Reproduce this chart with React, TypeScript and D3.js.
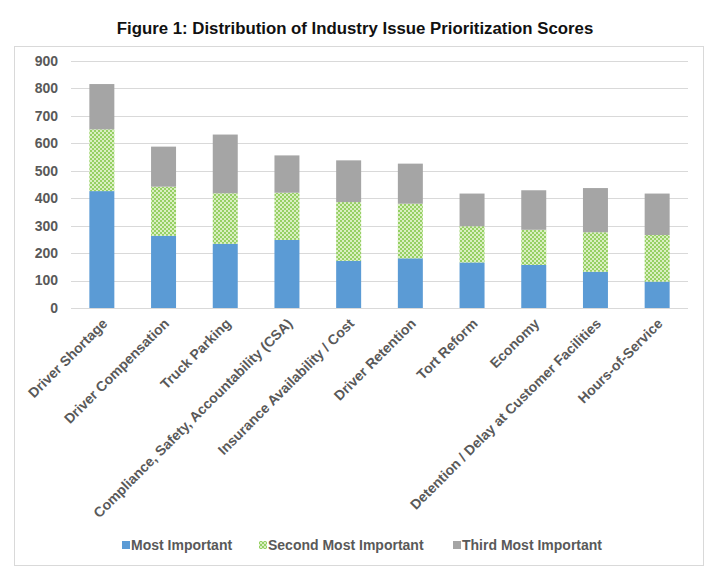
import React, { useEffect, useRef } from 'react';
import * as d3 from 'd3';

// issues, left to right
const categories = [
  'Driver Shortage',
  'Driver Compensation',
  'Truck Parking',
  'Compliance, Safety, Accountability (CSA)',
  'Insurance Availability / Cost',
  'Driver Retention',
  'Tort Reform',
  'Economy',
  'Detention / Delay at Customer Facilities',
  'Hours-of-Service',
];

// stacked segments (scores)
const mostImportant = [426, 263, 234, 248, 172, 181, 166, 157, 132, 96];
const secondMostImportant = [225, 179, 184, 172, 214, 199, 132, 128, 144, 170];
const thirdMostImportant = [165, 146, 214, 136, 152, 146, 119, 144, 161, 151];

const seriesNames = ['Most Important', 'Second Most Important', 'Third Most Important'];
const yTicks = [0, 100, 200, 300, 400, 500, 600, 700, 800, 900];

const W = 720;
const H = 579;

const App = () => {
  const ref = useRef<SVGSVGElement | null>(null);

  useEffect(() => {
    if (!ref.current) return;
    const svg = d3.select(ref.current);
    svg.selectAll('*').remove();

    const font = '"Liberation Sans", Arial, sans-serif';
    const textGray = '#595959';

    const defs = svg.append('defs');
    // dotted green fill like Excel's "small confetti" pattern
    const pat = defs.append('pattern')
      .attr('id', 'greenDots')
      .attr('width', 4)
      .attr('height', 4)
      .attr('patternUnits', 'userSpaceOnUse');
    pat.append('rect').attr('width', 4).attr('height', 4).attr('fill', '#daefc2');
    pat.append('rect').attr('x', 0).attr('y', 0).attr('width', 2).attr('height', 2).attr('fill', '#96d064');
    pat.append('rect').attr('x', 2).attr('y', 2).attr('width', 2).attr('height', 2).attr('fill', '#96d064');

    svg.append('rect')
      .attr('width', W).attr('height', H).attr('fill', '#ffffff');

    // title
    svg.append('text')
      .attr('x', 355)
      .attr('y', 34)
      .attr('text-anchor', 'middle')
      .attr('fill', '#111111')
      .style('font-family', font)
      .style('font-size', '16.8px')
      .style('font-weight', 'bold')
      .text('Figure 1: Distribution of Industry Issue Prioritization Scores');

    // chart frame
    svg.append('rect')
      .attr('x', 14.5).attr('y', 46.5)
      .attr('width', 689).attr('height', 519)
      .attr('fill', 'none')
      .attr('stroke', '#d9d9d9')
      .attr('stroke-width', 1);

    const plot = { left: 71, right: 688, top: 61, bottom: 308 };

    const x = d3.scaleBand<string>()
      .domain(categories)
      .range([plot.left, plot.right])
      .paddingInner(0.595)
      .paddingOuter(0.2975);

    const y = d3.scaleLinear()
      .domain([0, 900])
      .range([plot.bottom, plot.top]);

    // gridlines
    svg.append('g')
      .selectAll('line')
      .data(yTicks)
      .join('line')
      .attr('x1', plot.left)
      .attr('x2', plot.right)
      .attr('y1', d => Math.round(y(d)) + 0.5)
      .attr('y2', d => Math.round(y(d)) + 0.5)
      .attr('stroke', '#d9d9d9')
      .attr('stroke-width', 1);

    // y tick labels
    svg.append('g')
      .selectAll('text')
      .data(yTicks)
      .join('text')
      .attr('x', 58)
      .attr('y', d => y(d))
      .attr('dy', '0.35em')
      .attr('text-anchor', 'end')
      .attr('fill', textGray)
      .style('font-family', font)
      .style('font-size', '14px')
      .style('font-weight', 'bold')
      .text(d => String(d));

    // stacked bars
    const rows = categories.map((c, i) => ({
      cat: c,
      'Most Important': mostImportant[i],
      'Second Most Important': secondMostImportant[i],
      'Third Most Important': thirdMostImportant[i],
    }));
    const stack = d3.stack<any>().keys(seriesNames)(rows);
    const fills = ['#5b9bd5', 'url(#greenDots)', '#a5a5a5'];

    stack.forEach((layer, li) => {
      svg.append('g')
        .selectAll('rect')
        .data(layer)
        .join('rect')
        .attr('x', d => x(d.data.cat) as number)
        .attr('width', x.bandwidth())
        .attr('y', d => y(d[1]))
        .attr('height', d => y(d[0]) - y(d[1]))
        .attr('fill', fills[li]);
    });

    // category labels, rotated
    svg.append('g')
      .selectAll('text')
      .data(categories)
      .join('text')
      .attr('transform', d => `translate(${(x(d) as number) + x.bandwidth() / 2 + 3},${plot.bottom + 13}) rotate(-45)`)
      .attr('text-anchor', 'end')
      .attr('dy', '0.35em')
      .attr('fill', textGray)
      .style('font-family', font)
      .style('font-size', '14px')
      .style('font-weight', 'bold')
      .text(d => d);

    // legend
    const legendX = [122, 259, 453];
    const legendFills = ['#5b9bd5', 'url(#greenDots)', '#a5a5a5'];
    seriesNames.forEach((name, i) => {
      svg.append('rect')
        .attr('x', legendX[i])
        .attr('y', 541)
        .attr('width', 8)
        .attr('height', 8)
        .attr('fill', legendFills[i]);
      svg.append('text')
        .attr('x', legendX[i] + 9)
        .attr('y', 545)
        .attr('dy', '0.35em')
        .attr('fill', textGray)
        .style('font-family', font)
        .style('font-size', '14px')
        .style('font-weight', 'bold')
        .text(name);
    });
  }, []);

  return (
    <svg
      ref={ref}
      width={W}
      height={H}
      style={{ position: 'absolute', left: 0, top: 0, display: 'block' }}
    />
  );
};

export default App;
